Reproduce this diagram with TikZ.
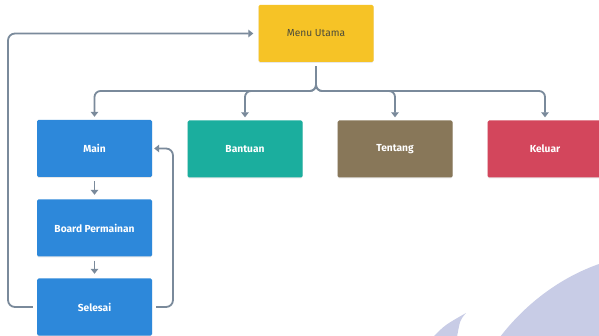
\documentclass[tikz,border=0pt]{standalone}
\usepackage{fontspec}
\setmainfont{Fira Sans}
\usetikzlibrary{arrows.meta,shadows}
\definecolor{cyel}{HTML}{F6C326}
\definecolor{cblue}{HTML}{2D88DA}
\definecolor{cteal}{HTML}{1BAE9E}
\definecolor{cbrown}{HTML}{887759}
\definecolor{cred}{HTML}{D3465C}
\definecolor{cline}{HTML}{7A8A9B}
\definecolor{ctext}{HTML}{4A4A3A}
\definecolor{cwm}{HTML}{C8CCE6}
\tikzset{
  box/.style={rectangle, rounded corners=1.5pt, minimum width=115pt, minimum height=57pt,
    inner sep=0pt, text=white, font=\bfseries\fontsize{10.2}{12}\selectfont,
    drop shadow={shadow xshift=0pt, shadow yshift=-0.8pt, opacity=0.18}},
  conn/.style={draw=cline, line width=1.8pt, rounded corners=6pt},
  arr/.style={conn, -{Triangle[length=5pt,width=7.5pt]}},
}
\begin{document}
\begin{tikzpicture}[x=1pt,y=-1pt]
\useasboundingbox (0,0) rectangle (599,336);
\fill[white] (0,0) rectangle (599,336);
% watermark
\fill[cwm] (500,337) .. controls (527,302) and (562,277) .. (599,264) -- (602,340) -- cycle;
\fill[cwm] (433,337) .. controls (445,325) .. (466,313) .. controls (460,320) .. (457,337) -- cycle;
% nodes
\node[box, fill=cyel, text=ctext, font=\fontsize{10.2}{12}\selectfont] (menu) at (316,33.5) {Menu Utama};
\node[box, fill=cblue] (main) at (94.5,148.5) {Main};
\node[box, fill=cteal] (bantuan) at (245,149) {Bantuan};
\node[box, fill=cbrown] (tentang) at (395,149) {Tentang};
\node[box, fill=cred] (keluar) at (545,149) {Keluar};
\node[box, fill=cblue] (board) at (94.5,228) {Board Permainan};
\node[box, fill=cblue] (selesai) at (94.5,307) {Selesai};
% brace connectors
\coordinate (bt) at ([yshift=-4pt]menu.south);
\draw[arr, shorten >=3pt] (bt) |- (94.5,91) -- (main.north);
\draw[arr, shorten >=3pt] (bt) |- (245,91) -- (bantuan.north);
\draw[arr, shorten >=3pt] (bt) |- (395,91) -- (tentang.north);
\draw[arr, shorten >=3pt] (bt) |- (545,91) -- (keluar.north);
% vertical
\draw[arr, shorten <=4pt, shorten >=4.5pt] (main.south) -- (board.north);
\draw[arr, shorten <=4pt, shorten >=4.5pt] (board.south) -- (selesai.north);
% loops
\coordinate (sl) at ([xshift=-4pt]selesai.west);
\coordinate (sr) at ([xshift=4pt]selesai.east);
\draw[arr, rounded corners=7pt, shorten >=5pt] (sl) -| (8,33.5) -- (menu.west);
\draw[arr, rounded corners=7pt, shorten >=2pt] (sr) -| (173,148.5) -- (main.east);
\end{tikzpicture}
\end{document}
